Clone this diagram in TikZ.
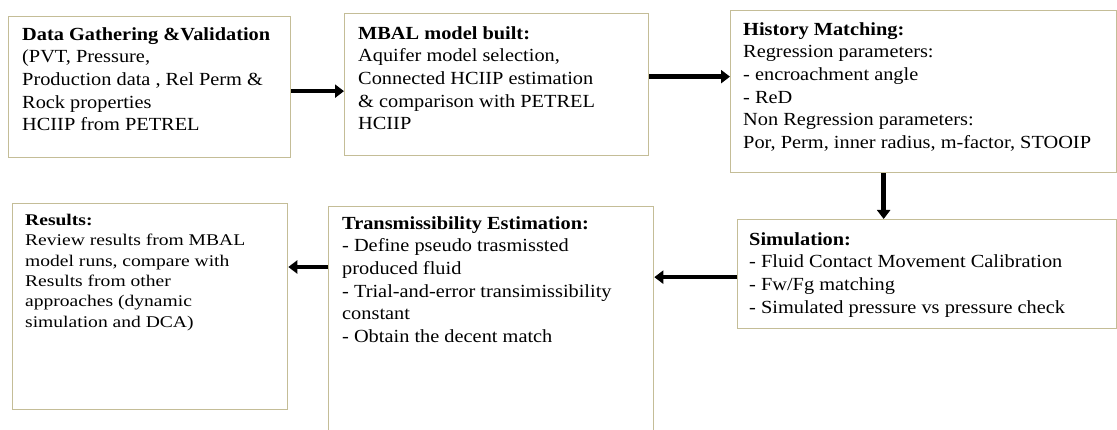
\documentclass[tikz,border=0pt]{standalone}
\usepackage{fontspec}
\setmainfont[FakeStretch=1.1]{Liberation Serif}
\newfontfamily\widefont[FakeStretch=1.2]{Liberation Serif}
\usetikzlibrary{arrows.meta}
\definecolor{boxline}{RGB}{196,189,151}
\tikzset{stepbox/.style={rectangle,draw=boxline,line width=1.3pt,anchor=north west,inner sep=0pt},
	 steptext/.style={anchor=north west,align=left,inner sep=0pt,font=\fontsize{18.5}{22.7}\selectfont},
	 flow/.style={line width=4.5pt,-{Triangle[length=9pt,width=13pt]}}
	 }
\begin{document}
\begin{tikzpicture}[x=1pt,y=-1pt] % workflow for MBAL study
	\useasboundingbox (0,0) rectangle (1117,430);
	\node[stepbox,minimum width=282pt,minimum height=141pt] (gather) at (8,16) {};
	\node[stepbox,minimum width=304pt,minimum height=142pt] (mbal) at (344,13) {};
	\node[stepbox,minimum width=386pt,minimum height=162pt] (history) at (730,10) {};
	\node[stepbox,minimum width=379pt,minimum height=109pt] (sim) at (737,219) {};
	\node[stepbox,minimum width=325pt,minimum height=240pt] (trans) at (328,206) {};
	\node[stepbox,minimum width=275pt,minimum height=206pt] (results) at (12,203) {};
	\node[steptext] (gathertxt) at ([shift={(14pt,-11pt)}]gather.north west)
		{\textbf{Data Gathering \&Validation}\\(PVT, Pressure,\\Production data , Rel Perm \&\\Rock properties\\HCIIP from PETREL};
	\node[steptext] (mbaltxt) at ([shift={(14pt,-13pt)}]mbal.north west)
		{\textbf{MBAL model built:}\\Aquifer model selection,\\Connected HCIIP estimation\\\& comparison with PETREL\\HCIIP};
	\node[steptext] (historytxt) at ([shift={(13pt,-12pt)}]history.north west)
		{\textbf{History Matching:}\\Regression parameters:\\- encroachment angle\\- ReD\\Non Regression parameters:\\Por, Perm, inner radius, m-factor, STOOIP};
	\node[steptext] (simtxt) at ([shift={(12pt,-13pt)}]sim.north west)
		{\textbf{Simulation:}\\- Fluid Contact Movement Calibration\\- Fw/Fg matching\\- Simulated pressure vs pressure check};
	\node[steptext] (transtxt) at ([shift={(14pt,-10pt)}]trans.north west)
		{\textbf{Transmissibility Estimation:}\\- Define pseudo trasmissted\\produced fluid\\- Trial-and-error transimissibility\\constant\\- Obtain the decent match};
	\node[steptext,font=\widefont\fontsize{16.3}{20.3}\selectfont] (resultstxt) at ([shift={(13pt,-11pt)}]results.north west)
		{\textbf{Results:}\\Review results  from MBAL\\model runs, compare with\\Results from other\\approaches (dynamic\\simulation and DCA)};
	\draw[flow] ([yshift=-4pt]gather.east) -- ([yshift=-4pt]gather.east -| mbal.west);
	\draw[flow] ([yshift=8pt]mbal.east) -- ([yshift=8pt]mbal.east -| history.west);
	\draw[flow] ([xshift=-40pt]history.south) -- ([xshift=-40pt]history.south |- sim.north);
	\draw[flow] ([yshift=-3pt]sim.west) -- ([yshift=-3pt]sim.west -| trans.east);
	\draw[flow] ([yshift=-61pt]trans.north west) -- ([yshift=-61pt]trans.north west -| results.east);
\end{tikzpicture}
\end{document}
